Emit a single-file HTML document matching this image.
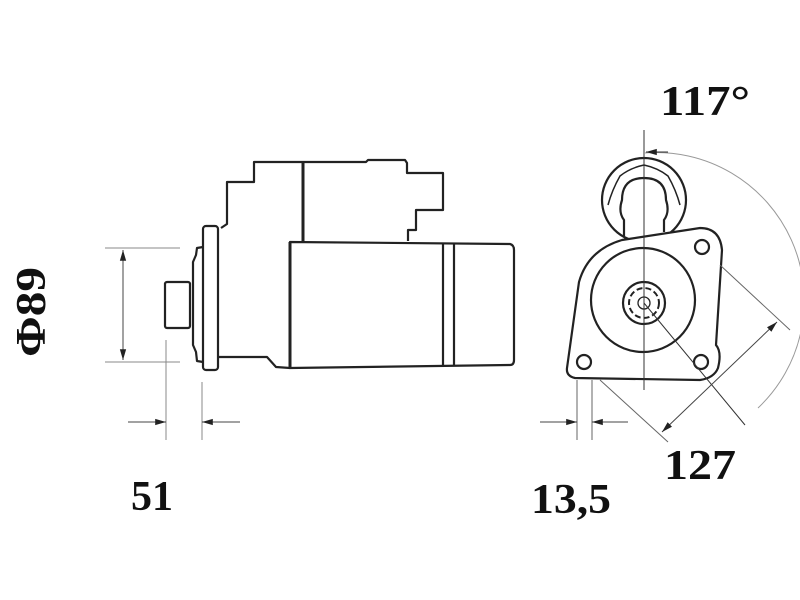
<!DOCTYPE html>
<html><head><meta charset="utf-8"><style>
html,body{margin:0;padding:0;background:#fff;}
svg{display:block;}
text{font-family:"Liberation Serif",serif;font-weight:bold;fill:#111;}
</style></head><body>
<svg width="800" height="600" viewBox="0 0 800 600" xmlns="http://www.w3.org/2000/svg">
<defs>
<marker id="a" viewBox="0 0 12 10" refX="12" refY="5" markerWidth="12" markerHeight="9" orient="auto-start-reverse" markerUnits="userSpaceOnUse"><path d="M0,1.5 L12,5 L0,8.5 z" fill="#222"/></marker>
</defs>
<g fill="none" stroke="#222" stroke-width="2.2" stroke-linejoin="round">
<path d="M221,228 L227,224 L227,182 L254,182 L254,162 L366,162 L368,160 L405,160 L407,163 L407,173 L443,173 L443,210 L416,210 L416,230 L408,230 L408,241"/>
<line x1="303" y1="161" x2="303" y2="242" stroke-width="3"/>
<path d="M290,242 L510,244 Q514,245 514,250 L514,360 Q514,365 510,365 L290,368 Z"/>
<line x1="290" y1="242" x2="290" y2="368" stroke-width="3"/>
<line x1="443" y1="243" x2="443" y2="367"/>
<line x1="454" y1="244" x2="454" y2="366"/>
<rect x="203" y="226" width="15" height="144" rx="3"/>
<path d="M203,247 L197,248 L196,255 L193,262 L193,345 L196,352 L197,361 L203,362"/>
<rect x="165" y="282" width="25" height="46" rx="2"/>
<path d="M218,357 L267,357 L276,367 L290,368"/>
</g>
<g stroke="#888" stroke-width="1" fill="none">
<line x1="105" y1="248" x2="180" y2="248"/>
<line x1="105" y1="362" x2="180" y2="362"/>
<line x1="123" y1="250" x2="123" y2="360" stroke="#444" marker-start="url(#a)" marker-end="url(#a)"/>
<line x1="166" y1="340" x2="166" y2="440"/>
<line x1="202" y1="382" x2="202" y2="440"/>
<line x1="128" y1="422" x2="166" y2="422" stroke="#444" marker-end="url(#a)"/>
<line x1="240" y1="422" x2="202" y2="422" stroke="#444" marker-end="url(#a)"/>
</g>
<g fill="none" stroke="#222" stroke-width="2.2">
<circle cx="644" cy="200" r="42"/>
<path d="M624,236 L624,220 Q618,212 622,200 Q622,178 644,178 Q666,178 666,200 Q670,212 664,220 L664,232"/>
<path d="M608,205 Q612,190 620,176 Q630,168 644,165 Q658,168 668,176 Q676,190 680,205" stroke-width="1.5"/>
<path d="M575,378 Q566,376 567,368 L579,282 Q588,250 622,240 L700,228 Q720,228 722,250 L716,345 Q722,352 718,368 Q714,378 700,380 Z" fill="#fff"/>
<circle cx="643" cy="300" r="52"/>
<circle cx="644" cy="303" r="21"/>
<circle cx="644" cy="303" r="15" stroke-width="2" stroke-dasharray="6 3"/>
<circle cx="644" cy="303" r="6" stroke-width="1.3"/>
<circle cx="702" cy="247" r="7"/>
<circle cx="584" cy="362" r="7"/>
<circle cx="701" cy="362" r="7"/>
</g>
<g stroke="#666" stroke-width="1" fill="none">
<line x1="644" y1="130" x2="644" y2="390" stroke="#333"/>
<path d="M644,153 A148,148 0 0 1 758,408" stroke="#999"/>
<line x1="668" y1="152" x2="646" y2="152" stroke="#333" marker-end="url(#a)"/>
<line x1="644" y1="303" x2="745" y2="425" stroke="#333"/>
<line x1="720" y1="265" x2="790" y2="330"/>
<line x1="600" y1="380" x2="668" y2="442"/>
<line x1="777" y1="322" x2="662" y2="432" stroke="#444" marker-start="url(#a)" marker-end="url(#a)"/>
<line x1="577" y1="380" x2="577" y2="440"/>
<line x1="592" y1="380" x2="592" y2="440"/>
<line x1="540" y1="422" x2="577" y2="422" stroke="#444" marker-end="url(#a)"/>
<line x1="628" y1="422" x2="592" y2="422" stroke="#444" marker-end="url(#a)"/>
</g>
<text x="660" y="115" font-size="42" textLength="90" lengthAdjust="spacingAndGlyphs">117°</text>
<text x="664" y="479" font-size="42" textLength="72" lengthAdjust="spacingAndGlyphs">127</text>
<text x="131" y="510" font-size="42">51</text>
<text x="531" y="513" font-size="42" textLength="80" lengthAdjust="spacingAndGlyphs">13,5</text>
<text transform="translate(45,357) rotate(-90)" font-size="42" textLength="90" lengthAdjust="spacingAndGlyphs">Φ89</text>
</svg>
</body></html>
